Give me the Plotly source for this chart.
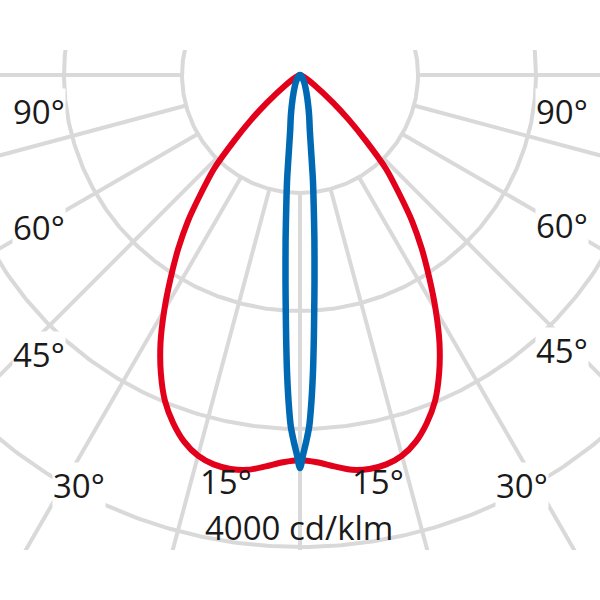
import numpy as np
import plotly.graph_objects as go

# ---------------- data ----------------
# gamma angle from nadir (deg) and luminous intensity (cd/klm), symmetric curves
red_angles = [0, 2.5, 5, 7.5, 10, 12.5, 15, 17.5, 20, 22.5, 25, 27.5, 30, 32.5, 35,
              37.5, 40, 42.5, 45, 47.5, 50, 55, 60, 70, 80, 90]
red_values = [3265, 3285, 3330, 3375, 3390, 3380, 3340, 3260, 3140, 2990, 2790, 2560,
              2300, 2040, 1800, 1560, 1300, 1080, 790, 560, 370, 150, 60, 15, 5, 0]

blue_angles = [0, 0.5, 1, 1.5, 2, 2.5, 3, 3.5, 4, 5, 6, 7, 8, 10, 12.5, 15, 20, 30, 45, 60, 90]
blue_values = [3330, 3210, 3100, 2980, 2770, 2520, 2240, 1980, 1760, 1400, 1110, 900,
               700, 480, 360, 270, 160, 70, 25, 10, 0]

grid_radii = [1000, 2000, 3000, 4000]          # cd/klm
grid_angles = list(range(-90, 91, 15))         # deg
angle_labels = ["90°", "90°", "60°", "60°", "45°", "45°", "30°", "30°", "15°", "15°"]
unit_label = "4000 cd/klm"

# ---------------- layout constants ----------------
W = H = 600
PX_PER_1000 = 118.0
CX, CY = 300, 75           # pixel position of the luminaire centre
CLIP_TOP, CLIP_BOT = 50, 550
k = 1000.0 / PX_PER_1000   # cd/klm per pixel

GRID_COL = "#d9d9d9"
RED = "#e2001a"
BLUE = "#0069b4"
TXT = "#1a1a1a"
FONT = "Open Sans"
FSIZE = 33


def polar_curve(angles, values):
    a = np.radians(np.asarray(angles, float))
    v = np.asarray(values, float)
    a_full = np.concatenate([-a[::-1], a[1:]])
    v_full = np.concatenate([v[::-1], v[1:]])
    return v_full * np.sin(a_full), -v_full * np.cos(a_full)


fig = go.Figure()

# grid circles
gx, gy = [], []
t = np.linspace(0, 2 * np.pi, 721)
for r in grid_radii:
    gx += list(r * np.cos(t)) + [None]
    gy += list(r * np.sin(t)) + [None]
# radial lines starting at the first circle
r0, r_end = grid_radii[0], 8000
for ang in grid_angles:
    a = np.radians(ang)
    gx += [r0 * np.sin(a), r_end * np.sin(a), None]
    gy += [-r0 * np.cos(a), -r_end * np.cos(a), None]

fig.add_trace(go.Scatter(x=gx, y=gy, mode="lines",
                         line=dict(color=GRID_COL, width=4),
                         hoverinfo="skip", showlegend=False))

rx, ry = polar_curve(red_angles, red_values)
fig.add_trace(go.Scatter(x=rx, y=ry, mode="lines",
                         line=dict(color=RED, width=6, shape="spline", smoothing=0.8),
                         showlegend=False))

bx, by = polar_curve(blue_angles, blue_values)
fig.add_trace(go.Scatter(x=bx, y=by, mode="lines",
                         line=dict(color=BLUE, width=6.5, shape="spline", smoothing=0.8),
                         showlegend=False))

# label pixel positions (layout) and whether they mask the grid behind them
label_pos = [(39, 112), (562, 111), (39, 227), (562, 225), (39, 354), (562, 350),
             (79, 485), (522, 485), (226, 481.5), (378, 481.5)]
label_mask = [True, True, True, True, True, True, True, True, False, False]
annotations = []
for txt, (px, py), m in zip(angle_labels, label_pos, label_mask):
    annotations.append(dict(text=txt, x=px / W, y=1 - py / H, xref="paper", yref="paper",
                            xanchor="center", yanchor="middle", showarrow=False,
                            bgcolor="white" if m else "rgba(0,0,0,0)", borderpad=0,
                            font=dict(family=FONT, size=FSIZE, color=TXT)))
annotations.append(dict(text=unit_label, x=299 / W, y=1 - 527.5 / H, xref="paper", yref="paper",
                        xanchor="center", yanchor="middle", showarrow=False,
                        font=dict(family=FONT, size=FSIZE, color=TXT)))

fig.update_layout(
    width=W, height=H,
    margin=dict(l=0, r=0, t=0, b=0),
    paper_bgcolor="white", plot_bgcolor="white",
    xaxis=dict(range=[(0 - CX) * k, (W - CX) * k], domain=[0, 1],
               visible=False, showgrid=False, zeroline=False, fixedrange=True),
    yaxis=dict(range=[-(CLIP_BOT - CY) * k, -(CLIP_TOP - CY) * k],
               domain=[1 - CLIP_BOT / H, 1 - CLIP_TOP / H],
               visible=False, showgrid=False, zeroline=False, fixedrange=True),
    annotations=annotations,
)

fig.write_html("out.html",
               config={"displayModeBar": False},
               post_script="document.body.style.margin='0';"
                           "document.body.style.padding='0';"
                           "document.documentElement.style.overflow='hidden';")
